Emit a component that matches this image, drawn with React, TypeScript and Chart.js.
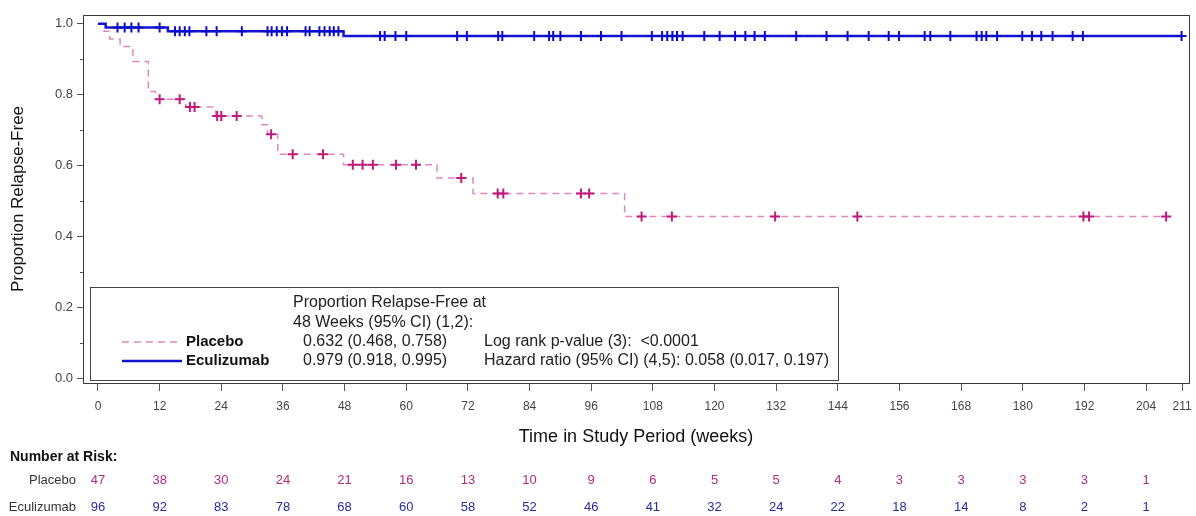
import { useEffect, useRef } from 'react';
import { Chart, registerables } from 'chart.js';

Chart.register(...registerables);

// ---- axis ticks ----
const xTickValues = [0, 12, 24, 36, 48, 60, 72, 84, 96, 108, 120, 132, 144, 156, 168, 180, 192, 204, 211];
const yTickValues = [0, 0.2, 0.4, 0.6, 0.8, 1.0];
const yMinorTickValues = [0.1, 0.3, 0.5, 0.7, 0.9];

// ---- Placebo KM curve ----
const placeboEventWeeks = [0, 1.2, 2.3, 4.3, 6.8, 9.8, 11.2, 17.1, 22.9, 31.9, 33.0, 35.0, 47.8, 66.0, 73.0, 102.5, 207.9];
const placeboSurvival = [1.0, 0.979, 0.957, 0.936, 0.894, 0.809, 0.787, 0.765, 0.740, 0.715, 0.688, 0.632, 0.602, 0.565, 0.521, 0.456, 0.456];
const placeboCensorWeeks = [12.0, 15.9, 17.9, 18.8, 23.2, 24.0, 27.0, 33.7, 37.9, 43.8, 49.6, 51.5, 53.5, 58.0, 61.9, 70.7, 77.8, 78.9, 94.0, 95.6, 105.8, 111.7, 131.8, 147.8, 191.8, 192.9, 207.9];

// ---- Eculizumab KM curve ----
const eculizumabEventWeeks = [0, 1.5, 13.6, 47.8, 211.0];
const eculizumabSurvival = [1.0, 0.990, 0.979, 0.966, 0.966];
const eculizumabCensorWeeks = [
  3.8, 5.2, 6.5, 7.9, 12.0, 15.0, 15.9, 16.9, 17.8, 21.1, 23.1, 28.0, 33.0, 33.8, 34.8, 35.8, 36.8,
  40.4, 41.2, 43.1, 44.1, 45.1, 45.9, 46.8,
  54.9, 55.8, 57.9, 60.0, 69.9, 71.8, 77.9, 78.7, 84.9, 87.8, 88.6, 90.0, 94.0, 97.9, 101.9,
  107.8, 109.8, 110.8, 111.8, 112.7, 113.8, 118.0, 121.0, 124.0, 126.0, 127.8, 129.8, 135.9,
  141.8, 145.9, 150.0, 153.9, 155.9, 160.9, 162.0, 165.9, 171.0, 172.0, 172.9, 175.0, 179.9,
  181.8, 183.6, 185.8, 189.7, 191.7, 210.9,
];

// ---- Number at risk ----
const riskWeeks = [0, 12, 24, 36, 48, 60, 72, 84, 96, 108, 120, 132, 144, 156, 168, 180, 192, 204];
const placeboAtRisk = [47, 38, 30, 24, 21, 16, 13, 10, 9, 6, 5, 5, 4, 3, 3, 3, 3, 1];
const eculizumabAtRisk = [96, 92, 83, 78, 68, 60, 58, 52, 46, 41, 32, 24, 22, 18, 14, 8, 2, 1];

// ---- legend text ----
const legendHeader = ['Proportion Relapse-Free at', '48 Weeks (95% CI) (1,2):'];
const legendRows = [
  { name: 'Placebo', est: '0.632 (0.468, 0.758)', stat: 'Log rank p-value (3):  <0.0001' },
  { name: 'Eculizumab', est: '0.979 (0.918, 0.995)', stat: 'Hazard ratio (95% CI) (4,5): 0.058 (0.017, 0.197)' },
];

const FONT = '"Liberation Sans", Arial, sans-serif';
const PLACEBO_LINE = '#dd8abb';
const PLACEBO_MARK = '#c2187c';
const ECU_LINE = '#1414d2';
const ECU_MARK = '#0c0cc8';
const PLACEBO_TEXT = '#b02c7e';
const ECU_TEXT = '#2a2aa0';

function survivalAt(times: number[], surv: number[], t: number) {
  let s = surv[0];
  for (let i = 0; i < times.length; i++) if (times[i] <= t) s = surv[i];
  return s;
}

const extrasPlugin = {
  id: 'kmExtras',
  afterDraw(chart: any) {
    const { ctx, chartArea, scales } = chart;
    const xs = scales.x;
    const ys = scales.y;
    ctx.save();
    // frame
    ctx.strokeStyle = '#3a3a3a';
    ctx.lineWidth = 1;
    ctx.strokeRect(chartArea.left + 0.5, chartArea.top + 0.5, chartArea.right - chartArea.left, chartArea.bottom - chartArea.top);
    // minor y ticks
    ctx.strokeStyle = '#555';
    yMinorTickValues.forEach((v) => {
      const y = Math.round(ys.getPixelForValue(v)) + 0.5;
      ctx.beginPath();
      ctx.moveTo(chartArea.left - 3, y);
      ctx.lineTo(chartArea.left, y);
      ctx.stroke();
    });

    // legend box
    const bx = 90, by = 287, bw = 748, bh = 93;
    ctx.fillStyle = '#ffffff';
    ctx.fillRect(bx, by, bw, bh);
    ctx.strokeStyle = '#444';
    ctx.strokeRect(bx + 0.5, by + 0.5, bw, bh);
    ctx.textBaseline = 'middle';
    ctx.textAlign = 'left';
    ctx.fillStyle = '#222';
    ctx.font = `16px ${FONT}`;
    ctx.fillText(legendHeader[0], 293, 303);
    ctx.fillText(legendHeader[1], 293, 323);
    const rowY = [342, 361];
    // sample lines
    ctx.lineWidth = 1.5;
    ctx.strokeStyle = PLACEBO_LINE;
    ctx.setLineDash([7, 5]);
    ctx.beginPath();
    ctx.moveTo(122, rowY[0]);
    ctx.lineTo(182, rowY[0]);
    ctx.stroke();
    ctx.setLineDash([]);
    ctx.lineWidth = 2.5;
    ctx.strokeStyle = ECU_LINE;
    ctx.beginPath();
    ctx.moveTo(122, rowY[1]);
    ctx.lineTo(182, rowY[1]);
    ctx.stroke();
    legendRows.forEach((r, i) => {
      ctx.fillStyle = '#111';
      ctx.font = `bold 15px ${FONT}`;
      ctx.fillText(r.name, 186, rowY[i]);
      ctx.font = `16px ${FONT}`;
      ctx.fillStyle = '#222';
      ctx.fillText(r.est, 303, rowY[i]);
      ctx.fillText(r.stat, 484, rowY[i]);
    });

    // number at risk table
    ctx.fillStyle = '#111';
    ctx.font = `bold 14px ${FONT}`;
    ctx.textAlign = 'left';
    ctx.fillText('Number at Risk:', 10, 457);
    ctx.font = `13px ${FONT}`;
    ctx.textAlign = 'right';
    ctx.fillStyle = '#333';
    ctx.fillText('Placebo', 76, 480);
    ctx.fillText('Eculizumab', 76, 507);
    ctx.textAlign = 'center';
    riskWeeks.forEach((w, i) => {
      const x = xs.getPixelForValue(w);
      ctx.fillStyle = PLACEBO_TEXT;
      ctx.fillText(String(placeboAtRisk[i]), x, 480);
      ctx.fillStyle = ECU_TEXT;
      ctx.fillText(String(eculizumabAtRisk[i]), x, 507);
    });
    ctx.restore();
  },
};

export default function App() {
  const ref = useRef<HTMLCanvasElement | null>(null);
  useEffect(() => {
    if (!ref.current) return;
    const ecuLine = eculizumabEventWeeks.map((t, i) => ({ x: t, y: eculizumabSurvival[i] }));
    const plaLine = placeboEventWeeks.map((t, i) => ({ x: t, y: placeboSurvival[i] }));
    const ecuCens = eculizumabCensorWeeks.map((t) => ({ x: t, y: survivalAt(eculizumabEventWeeks, eculizumabSurvival, t) }));
    const plaCens = placeboCensorWeeks.map((t) => ({ x: t, y: survivalAt(placeboEventWeeks, placeboSurvival, t) }));
    const chart = new Chart(ref.current, {
      type: 'line',
      data: {
        datasets: [
          { type: 'scatter', label: 'Eculizumab censored', data: ecuCens, pointStyle: 'cross', pointRadius: 5, pointBorderWidth: 2, borderColor: ECU_MARK, backgroundColor: ECU_MARK, showLine: false } as any,
          { type: 'line', label: 'Eculizumab', data: ecuLine, stepped: 'before', borderColor: ECU_LINE, borderWidth: 2.5, pointRadius: 0, fill: false } as any,
          { type: 'scatter', label: 'Placebo censored', data: plaCens, pointStyle: 'cross', pointRadius: 5, pointBorderWidth: 2, borderColor: PLACEBO_MARK, backgroundColor: PLACEBO_MARK, showLine: false } as any,
          { type: 'line', label: 'Placebo', data: plaLine, stepped: 'before', borderColor: PLACEBO_LINE, borderWidth: 1.5, borderDash: [7, 5], pointRadius: 0, fill: false } as any,
        ],
      },
      options: {
        animation: false,
        responsive: false,
        events: [],
        layout: { padding: { left: 0, top: 15, right: 5, bottom: 68 } },
        plugins: { legend: { display: false }, tooltip: { enabled: false } },
        scales: {
          x: {
            type: 'linear',
            min: -2.914,
            max: 212.35,
            afterBuildTicks: (s: any) => { s.ticks = xTickValues.map((v) => ({ value: v })); },
            afterFit: (s: any) => { s.height = 65; s.paddingLeft = 0; s.paddingRight = 0; },
            ticks: { autoSkip: false, maxRotation: 0, padding: 8, color: '#444', font: { family: FONT, size: 12 }, callback: (v: any) => String(v) },
            grid: { drawOnChartArea: false, drawTicks: true, tickLength: 8, tickColor: '#555' },
            border: { display: true, color: '#3a3a3a' },
            title: { display: true, text: 'Time in Study Period (weeks)', color: '#111', font: { family: FONT, size: 18 }, padding: { top: 0, bottom: 0 } },
          },
          y: {
            type: 'linear',
            min: -0.014,
            max: 1.025,
            afterBuildTicks: (s: any) => { s.ticks = yTickValues.map((v) => ({ value: v })); },
            afterFit: (s: any) => { s.width = 83; s.paddingTop = 0; s.paddingBottom = 0; },
            ticks: { padding: 4, color: '#444', font: { family: FONT, size: 13 }, callback: (v: any) => Number(v).toFixed(1) },
            grid: { drawOnChartArea: false, drawTicks: true, tickLength: 6, tickColor: '#555' },
            border: { display: true, color: '#3a3a3a' },
            title: { display: true, text: 'Proportion Relapse-Free', color: '#111', font: { family: FONT, size: 17 }, padding: { top: 8, bottom: 0 } },
          },
        },
      },
      plugins: [extrasPlugin],
    } as any);
    return () => chart.destroy();
  }, []);
  return (
    <div style={{ position: 'absolute', left: 0, top: 0, width: 1196, height: 516, background: '#fff' }}>
      <canvas ref={ref} width={1196} height={516} style={{ display: 'block', width: 1196, height: 516 }} />
    </div>
  );
}
